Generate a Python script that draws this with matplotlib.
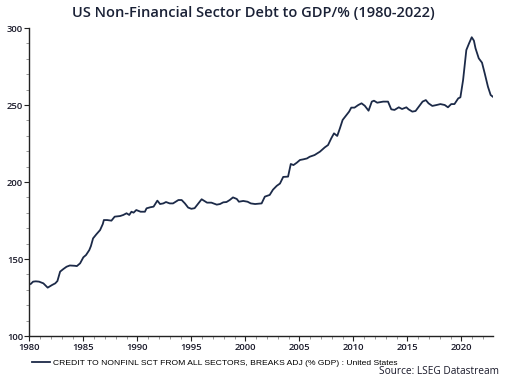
import matplotlib
matplotlib.use("Agg")
import matplotlib.pyplot as plt
from matplotlib.ticker import MultipleLocator

# decimal year positions and debt-to-GDP values
years = [1980.13, 1980.35, 1980.6, 1980.9, 1981.3, 1981.7, 1982.1, 1982.4, 1982.6, 1982.85,
         1983.15, 1983.45, 1983.75, 1984.2, 1984.4, 1984.7, 1985.0, 1985.25, 1985.55, 1985.7,
         1985.9, 1986.2, 1986.55, 1986.8, 1986.9, 1987.2, 1987.6, 1987.9, 1988.4, 1988.7,
         1989.0, 1989.25, 1989.45, 1989.65, 1989.9, 1990.3, 1990.7, 1990.85, 1991.2, 1991.5,
         1991.85, 1992.1, 1992.4, 1992.65, 1993.0, 1993.3, 1993.8, 1994.1, 1994.4, 1994.7,
         1995.0, 1995.3, 1995.65, 1995.95, 1996.15, 1996.45, 1996.85, 1997.35, 1997.65, 1997.95,
         1998.25, 1998.55, 1998.85, 1999.2, 1999.4, 1999.8, 2000.2, 2000.5, 2000.9, 2001.5,
         2001.8, 2002.25, 2002.55, 2002.9, 2003.2, 2003.5, 2003.95, 2004.2, 2004.45, 2004.75,
         2005.05, 2005.35, 2005.7, 2005.95, 2006.4, 2006.9, 2007.35, 2007.65, 2007.95, 2008.2,
         2008.5, 2008.75, 2009.0, 2009.35, 2009.6, 2009.8, 2010.1, 2010.45, 2010.75, 2011.05,
         2011.4, 2011.7, 2011.9, 2012.2, 2012.75, 2013.2, 2013.5, 2013.8, 2014.2, 2014.5,
         2014.9, 2015.1, 2015.45, 2015.75, 2016.1, 2016.4, 2016.7, 2016.95, 2017.3, 2017.7,
         2018.05, 2018.45, 2018.75, 2019.05, 2019.35, 2019.7, 2019.9, 2020.15, 2020.45, 2020.7,
         2020.95, 2021.15, 2021.3, 2021.6, 2021.9, 2022.15, 2022.45, 2022.7, 2022.9]
debt_gdp = [133.8, 135.3, 135.5, 135.3, 134.2, 131.4, 133.1, 134.2, 135.7, 141.8,
            143.5, 145.0, 145.8, 145.6, 145.4, 147.2, 151.1, 152.6, 155.8, 158.4,
            163.4, 166.0, 168.8, 172.7, 175.3, 175.3, 174.9, 177.5, 177.9, 178.6,
            179.7, 178.6, 180.7, 180.1, 181.8, 180.7, 180.7, 182.9, 183.6, 184.0,
            187.9, 185.7, 186.1, 187.0, 186.1, 186.1, 188.3, 188.3, 186.1, 183.4,
            182.6, 183.0, 186.1, 188.8, 187.9, 186.6, 186.6, 185.3, 185.7, 186.8,
            187.0, 188.3, 190.0, 189.0, 187.2, 187.7, 187.2, 186.1, 185.7, 186.1,
            190.5, 191.6, 195.0, 197.5, 199.0, 203.3, 203.5, 211.7, 211.0, 212.5,
            214.3, 214.7, 215.3, 216.4, 217.5, 219.7, 222.5, 224.0, 228.4, 231.6,
            229.9, 234.9, 240.3, 243.5, 245.7, 248.3, 248.3, 250.0, 251.1, 249.5,
            246.3, 252.2, 252.8, 251.5, 252.2, 252.2, 247.2, 246.8, 248.5, 247.4,
            248.5, 247.2, 245.7, 246.1, 249.4, 252.2, 253.2, 251.1, 249.4, 250.0,
            250.6, 250.0, 248.5, 250.6, 250.6, 254.3, 255.0, 266.2, 285.7, 290.0,
            294.0, 291.8, 286.8, 280.3, 277.5, 270.6, 261.9, 256.5, 255.4]

x_ticks = [1980, 1985, 1990, 1995, 2000, 2005, 2010, 2015, 2020]
y_ticks = [100, 150, 200, 250, 300]

title = "US Non-Financial Sector Debt to GDP/% (1980-2022)"
legend_label = "CREDIT TO NONFINL SCT FROM ALL SECTORS, BREAKS ADJ (% GDP) : United States"
source = "Source: LSEG Datastream"

navy = "#1c2a48"
txt = "#1a1a2a"

fig = plt.figure(figsize=(5.10, 3.82), dpi=100)
ax = fig.add_axes([0.0575, 0.1204, 0.9092, 0.8063])

line, = ax.plot(years, debt_gdp, color=navy, lw=1.3, label=legend_label)

ax.set_xlim(1980, 2022.92)
ax.set_ylim(100, 300)
ax.set_xticks(x_ticks)
ax.set_yticks(y_ticks)
ax.xaxis.set_minor_locator(MultipleLocator(1))
ax.yaxis.set_minor_locator(MultipleLocator(10))

for s in ["top", "right"]:
    ax.spines[s].set_visible(False)
for s in ["left", "bottom"]:
    ax.spines[s].set_color("#222222")
    ax.spines[s].set_linewidth(1.0)

ax.tick_params(axis="both", which="major", length=3.5, width=0.8, color="#222222",
               labelsize=6.8, labelcolor=txt, pad=1.5)
ax.tick_params(axis="both", which="minor", length=2.5, width=0.6, color="#888888")
ax.tick_params(axis="y", which="major", pad=1.0)
for lab in ax.get_xticklabels() + ax.get_yticklabels():
    lab.set_family(["Open Sans", "DejaVu Sans"])
    lab.set_fontweight("semibold")

fig.text(0.497, 0.966, title, ha="center", va="center", fontsize=10.5,
         color="#1a2136", family=["Open Sans", "DejaVu Sans"], fontweight="semibold")

# legend
fig.legend(handles=[line], loc="center left", bbox_to_anchor=(0.063, 0.0505),
           frameon=False, handlelength=2.1, handletextpad=0.35,
           borderpad=0, borderaxespad=0,
           prop={"family": ["Liberation Sans", "DejaVu Sans"], "size": 6.1})

fig.text(0.978, 0.013, source, ha="right", va="bottom", fontsize=7.3,
         color="#1a1a2a", family=["Open Sans", "DejaVu Sans"])

fig.savefig("out.png", dpi=100)
